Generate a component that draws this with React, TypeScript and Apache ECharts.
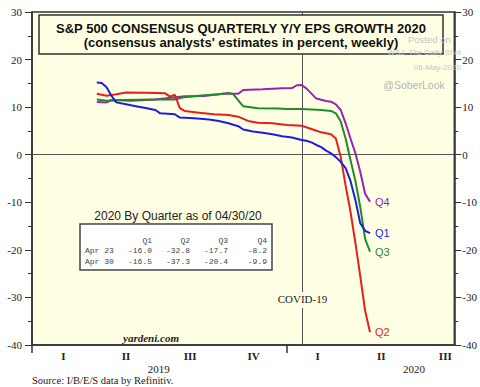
import { useEffect, useRef } from 'react';
import * as echarts from 'echarts';

// ---- Data ----
const q1Dates = ['2019-04-04','2019-04-11','2019-04-18','2019-04-25','2019-05-02','2019-05-16','2019-05-30','2019-06-13','2019-06-27','2019-07-04','2019-07-25','2019-08-01','2019-08-22','2019-09-12','2019-09-26','2019-10-10','2019-10-24','2019-10-31','2019-11-14','2019-11-28','2019-12-12','2019-12-26','2020-01-09','2020-01-23','2020-01-30','2020-02-06','2020-02-13','2020-02-20','2020-02-27','2020-03-05','2020-03-12','2020-03-19','2020-03-26','2020-04-02','2020-04-09','2020-04-16','2020-04-23','2020-04-30'];
const q1Values = [15.2,15.1,14.2,12.4,11.0,10.6,10.2,9.8,9.4,8.7,8.5,7.8,7.65,7.4,7.1,6.6,6.0,5.3,4.9,4.6,4.3,3.9,3.6,3.1,2.95,2.6,2.05,1.6,0.85,0.3,-0.5,-1.5,-2.8,-5.5,-9.5,-14.4,-16.0,-16.5];

const q2Dates = ['2019-04-04','2019-04-18','2019-05-02','2019-05-16','2019-06-13','2019-07-11','2019-07-18','2019-07-25','2019-08-01','2019-08-08','2019-08-29','2019-09-19','2019-10-10','2019-10-24','2019-11-07','2019-11-21','2019-12-12','2020-01-02','2020-01-23','2020-02-06','2020-02-20','2020-03-05','2020-03-12','2020-03-19','2020-03-26','2020-04-02','2020-04-09','2020-04-16','2020-04-23','2020-04-30'];
const q2Values = [12.8,12.4,12.7,13.1,13.0,12.9,12.2,12.6,9.8,9.2,8.8,8.5,8.35,8.0,7.1,6.7,6.6,6.25,6.1,5.4,4.7,4.3,3.4,-0.5,-6.5,-12.0,-18.5,-25.5,-32.8,-37.3];

const q3Dates = ['2019-04-04','2019-04-18','2019-05-09','2019-06-27','2019-07-25','2019-08-08','2019-09-05','2019-09-26','2019-10-10','2019-10-17','2019-10-24','2019-10-31','2019-11-21','2019-12-19','2020-01-02','2020-01-23','2020-02-20','2020-03-05','2020-03-12','2020-03-19','2020-03-26','2020-04-02','2020-04-09','2020-04-16','2020-04-23','2020-04-30'];
const q3Values = [11.6,11.35,11.5,11.6,11.6,12.1,12.5,12.7,13.0,12.7,11.4,10.2,9.75,9.7,9.6,9.6,9.4,9.2,8.7,7.0,3.4,-1.1,-5.5,-11.0,-17.7,-20.4];

const q4Dates = ['2019-04-04','2019-04-18','2019-04-25','2019-05-23','2019-06-27','2019-08-08','2019-09-05','2019-10-03','2019-10-24','2019-10-31','2019-11-28','2019-12-26','2020-01-09','2020-01-16','2020-01-23','2020-01-30','2020-02-13','2020-02-27','2020-03-05','2020-03-12','2020-03-19','2020-03-26','2020-04-02','2020-04-09','2020-04-16','2020-04-23','2020-04-30'];
const q4Values = [11.1,11.0,11.5,11.35,11.6,12.3,12.35,12.8,12.8,13.6,13.75,13.95,14.0,14.6,14.65,13.9,11.8,11.3,11.15,10.6,9.4,6.6,3.4,0.3,-3.6,-8.2,-9.9];

const seriesNames = ['Q1', 'Q2', 'Q3', 'Q4'];
const seriesColors = ['#1c1ce6', '#e61e1e', '#1e8c28', '#9a22b4'];
const tableRowLabels = ['Apr 23', 'Apr 30'];

const quarterTickDates = ['2019-02-15','2019-05-16','2019-08-16','2019-11-15','2020-02-15','2020-05-16','2020-08-16'];
const quarterTickLabels = ['I','II','III','IV','I','II','III'];
const yearTickDates = ['2019-07-02','2020-07-02'];
const yearTickLabels = ['2019','2020'];
const yearBoundaryDates = ['2019-01-01','2020-01-01'];
const covidDate = '2020-01-24';
const axisStart = '2019-01-01';
const axisEnd = '2020-08-29';

const titleLine1 = 'S&P 500 CONSENSUS QUARTERLY Y/Y EPS GROWTH 2020';
const titleLine2 = "(consensus analysts' estimates in percent, weekly)";
const tableTitle = '2020 By Quarter as of 04/30/20';
const sourceText = 'Source: I/B/E/S data by Refinitiv.';

const ts = (d: string) => {
  const [y, m, dd] = d.split('-').map(Number);
  return Date.UTC(y, m - 1, dd);
};
const pairs = (dates: string[], vals: number[]) => dates.map((d, i) => [ts(d), vals[i]]);

const SERIF = "'Liberation Serif', 'Times New Roman', serif";
const SANS = "'Liberation Sans', Arial, sans-serif";
const MONO = "'Liberation Mono', 'Courier New', monospace";

export default function App() {
  const ref = useRef<HTMLDivElement>(null);
  useEffect(() => {
    const chart = echarts.init(ref.current!, null, { renderer: 'svg' });
    const allDates = [q1Dates, q2Dates, q3Dates, q4Dates];
    const allValues = [q1Values, q2Values, q3Values, q4Values];
    const qTs = quarterTickDates.map(ts);
    const yTs = yearTickDates.map(ts);

    const yAxisBase = (pos: 'left' | 'right') => ({
      type: 'value',
      position: pos,
      min: -40,
      max: 30,
      interval: 10,
      axisLine: { show: true, onZero: false, lineStyle: { color: '#333', width: 1.5 } },
      axisTick: { show: true, length: 7, lineStyle: { color: '#333', width: 1 } },
      minorTick: { show: true, splitNumber: 2, length: 4, lineStyle: { color: '#333', width: 1 } },
      splitLine: { show: false },
      axisLabel: { color: '#222', fontFamily: SERIF, fontSize: 11, margin: pos === 'left' ? 10 : 8 },
    });

    const series: any[] = seriesNames.map((name, i) => ({
      type: 'line',
      name,
      data: pairs(allDates[i], allValues[i]),
      symbol: 'none',
      showSymbol: false,
      lineStyle: { color: seriesColors[i], width: 2 },
      itemStyle: { color: seriesColors[i] },
      endLabel: {
        show: true,
        formatter: name,
        color: seriesColors[i],
        fontFamily: SANS,
        fontSize: 11,
        distance: 5,
      },
      z: 3 + (3 - i),
    }));

    series[0].markLine = {
      silent: true,
      symbol: 'none',
      animation: false,
      lineStyle: { color: '#555', width: 1, type: 'solid' },
      label: { show: false },
      data: [
        { yAxis: 0 },
        [{ coord: [ts(covidDate), 30] }, { coord: [ts(covidDate), -28.9] }],
        [
          {
            coord: [ts(covidDate), -32.2],
            label: {
              show: true,
              position: 'start',
              formatter: 'COVID-19',
              color: '#222',
              fontFamily: SERIF,
              fontSize: 11,
              distance: 3,
            },
          },
          { coord: [ts(covidDate), -40] },
        ],
      ],
    };

    const colRight = [152, 190, 228, 267];
    const rowY = [250, 261];
    const tableTexts: any[] = [];
    seriesNames.forEach((n, c) => {
      tableTexts.push({
        type: 'text', x: colRight[c], y: 240, z: 101,
        style: { text: n, font: `8px ${MONO}`, fill: '#444', align: 'right', verticalAlign: 'middle' },
      });
    });
    tableRowLabels.forEach((lab, r) => {
      tableTexts.push({
        type: 'text', x: 85, y: rowY[r], z: 101,
        style: { text: lab, font: `8px ${MONO}`, fill: '#444', align: 'left', verticalAlign: 'middle' },
      });
      allValues.forEach((vals, c) => {
        const v = vals[vals.length - 2 + r];
        tableTexts.push({
          type: 'text', x: colRight[c], y: rowY[r], z: 101,
          style: { text: v.toFixed(1), font: `8px ${MONO}`, fill: '#444', align: 'right', verticalAlign: 'middle' },
        });
      });
    });

    const option: any = {
      animation: false,
      backgroundColor: '#ffffff',
      grid: {
        left: 32, right: 20, top: 12, bottom: 42,
        show: true, backgroundColor: '#FFFFE4', borderColor: '#333', borderWidth: 1.5,
      },
      xAxis: [
        {
          type: 'value',
          min: ts(axisStart),
          max: ts(axisEnd),
          position: 'bottom',
          axisLine: { show: true, onZero: false, lineStyle: { color: '#333', width: 1.5 } },
          axisTick: {
            show: true,
            customValues: yearBoundaryDates.map(ts),
            length: 8,
            lineStyle: { color: '#333', width: 1.5 },
          },
          minorTick: { show: false },
          splitLine: { show: false },
          axisLabel: {
            show: true,
            customValues: qTs,
            formatter: (v: number) => {
              const idx = qTs.indexOf(v);
              return idx >= 0 ? quarterTickLabels[idx] : '';
            },
            color: '#222',
            fontFamily: SERIF,
            fontSize: 11,
            fontWeight: 'bold',
            margin: 5,
            showMinLabel: true,
            showMaxLabel: true,
          },
        },
        {
          type: 'value',
          min: ts(axisStart),
          max: ts(axisEnd),
          position: 'bottom',
          offset: 0,
          axisLine: { show: false, onZero: false },
          axisTick: { show: false },
          minorTick: { show: false },
          splitLine: { show: false },
          axisLabel: {
            show: true,
            customValues: yTs,
            formatter: (v: number) => {
              const idx = yTs.indexOf(v);
              return idx >= 0 ? yearTickLabels[idx] : '';
            },
            color: '#222',
            fontFamily: SERIF,
            fontSize: 11,
            margin: 18,
          },
        },
      ],
      yAxis: [yAxisBase('left'), yAxisBase('right')],
      series,
      graphic: [
        {
          type: 'rect', z: 100,
          shape: { x: 39, y: 15, width: 404, height: 39 },
          style: { fill: '#FFFFE4', stroke: '#333', lineWidth: 1.5 },
        },
        {
          type: 'text', x: 241, y: 28, z: 101,
          style: { text: titleLine1, font: `bold 13px ${SANS}`, fill: '#111', align: 'center', verticalAlign: 'middle' },
        },
        {
          type: 'text', x: 241, y: 42, z: 101,
          style: { text: titleLine2, font: `bold 13px ${SANS}`, fill: '#111', align: 'center', verticalAlign: 'middle' },
        },
        {
          type: 'text', x: 408, y: 39, z: 102,
          style: { text: 'Posted on', font: `9.5px ${SANS}`, fill: '#c4c4c4', align: 'left', verticalAlign: 'middle' },
        },
        {
          type: 'text', x: 461, y: 52, z: 102,
          style: { text: 'WSJ, The Daily Shot', font: `8px ${SANS}`, fill: '#c4c4c4', align: 'right', verticalAlign: 'middle' },
        },
        {
          type: 'text', x: 461, y: 67, z: 102,
          style: { text: '06-May-2020', font: `8px ${SANS}`, fill: '#c4c4c4', align: 'right', verticalAlign: 'middle' },
        },
        {
          type: 'text', x: 414, y: 85, z: 102,
          style: { text: '@SoberLook', font: `10.5px ${SANS}`, fill: '#b4b4b4', align: 'center', verticalAlign: 'middle' },
        },
        {
          type: 'text', x: 178, y: 216, z: 101,
          style: { text: tableTitle, font: `12px ${SANS}`, fill: '#222', align: 'center', verticalAlign: 'middle' },
        },
        {
          type: 'rect', z: 100,
          shape: { x: 80, y: 224, width: 192, height: 46 },
          style: { fill: '#ffffff', stroke: '#444', lineWidth: 1.5 },
        },
        ...tableTexts,
        {
          type: 'text', x: 151, y: 338, z: 101,
          style: { text: 'yardeni.com', font: `italic bold 11px ${SERIF}`, fill: '#222', align: 'center', verticalAlign: 'middle' },
        },
        {
          type: 'text', x: 32, y: 380, z: 101,
          style: { text: sourceText, font: `10.5px ${SERIF}`, fill: '#222', align: 'left', verticalAlign: 'middle' },
        },
      ],
    };
    chart.setOption(option);
    return () => chart.dispose();
  }, []);
  return (
    <div
      ref={ref}
      style={{ position: 'fixed', left: 0, top: 0, width: 480, height: 387, background: '#fff' }}
    />
  );
}
